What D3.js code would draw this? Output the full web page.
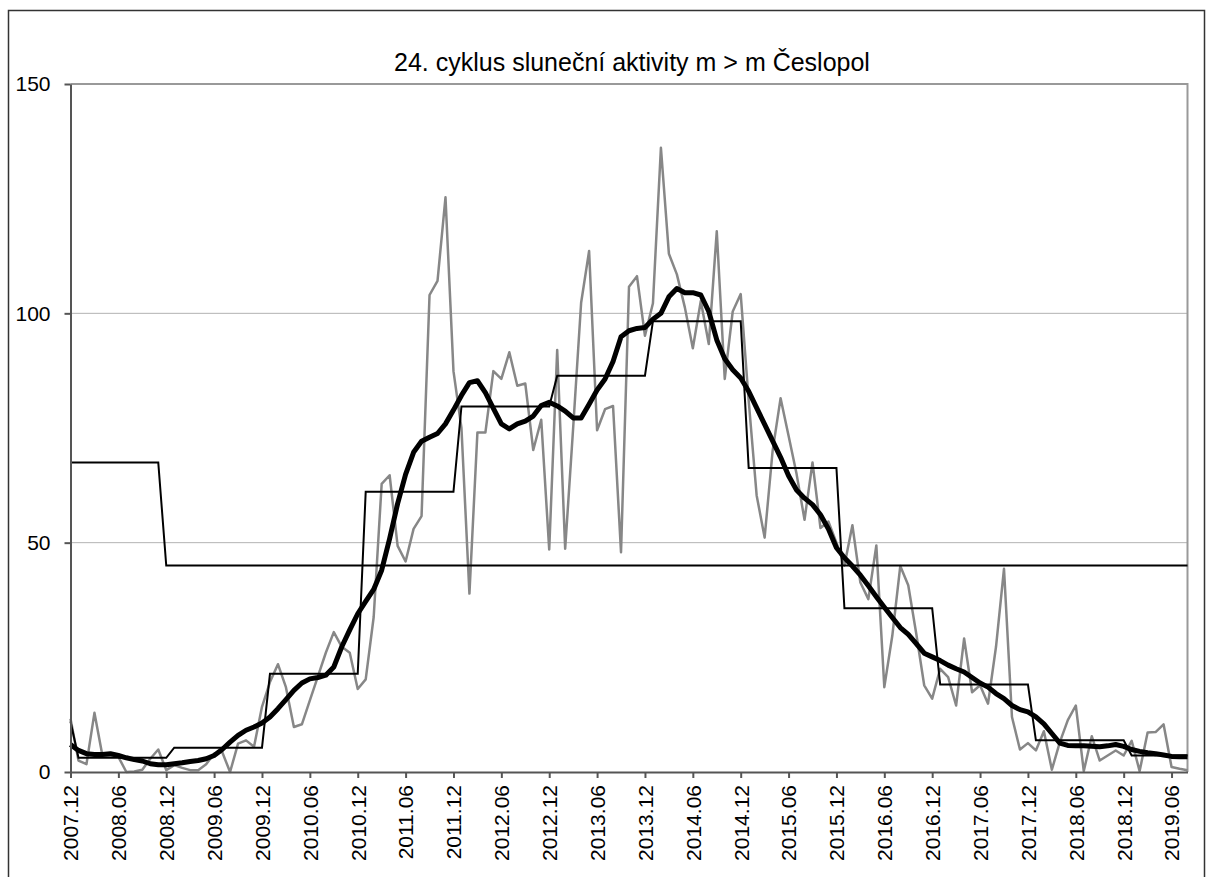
<!DOCTYPE html>
<meta charset="utf-8">
<style>
  body { margin: 0; background: #fff; }
  svg text { font-family: Arial, "Liberation Sans", sans-serif; fill: #000; }
</style>
<body></body>
<script src="https://cdn.jsdelivr.net/npm/d3@7/dist/d3.min.js"></script>
<script>
  const title = "24. cyklus sluneční aktivity m > m Česlopol"

  // first month on the axis and how many months follow
  const firstYear = 2007
  const firstMonth = 12
  const monthCount = 141

  // monthly relative numbers (grey line)
  const monthly = [
    11.6, 2.5, 1.7, 12.9, 3.6, 3.6, 3.3, 0, 0.1, 0.5, 2.9, 4.9,
    0.4, 1.5, 0.9, 0.4, 0.4, 1.7, 4, 4.4, 0, 6.2, 6.9, 5.5,
    14.2, 19.6, 23.5, 18.5, 9.8, 10.4, 15.6, 20.8, 26, 30.5, 27.3, 26,
    18.1, 20.2, 33.8, 62.8, 64.7, 49.3, 45.9, 53, 55.8, 104, 107.1, 125.3,
    87.4, 75, 38.9, 74, 74, 87.4, 85.7, 91.5, 84.2, 84.7, 70.2, 76.8,
    48.5, 92, 48.7, 75, 102.3, 113.6, 74.5, 79.1, 79.8, 47.9, 105.8, 108.1,
    95.1, 102.2, 136.1, 113, 108.5, 101.3, 92.4, 102.7, 93.3, 117.9, 85.7, 100.4,
    104.2, 81, 60.3, 51.1, 70, 81.5, 73.3, 65, 55, 67.5, 53.2, 54.6,
    50, 45, 53.8, 41.3, 37.7, 49.4, 18.5, 29.7, 44.9, 40.7, 30.2, 18.9,
    16, 22.5, 20.7, 14.5, 29.1, 17.4, 18.9, 14.9, 27.3, 44.3, 12, 4.9,
    6.3, 4.7, 8.9, 0.5, 6.5, 11.3, 14.5, 0.2, 7.8, 2.5, 3.6, 4.7,
    3.6, 6.8, 0.2, 8.6, 8.7, 10.4, 1.1, 0.7, 0.4
  ]

  // smoothed curve (thick black line)
  const smoothed = [
    6, 4.7, 4, 3.8, 3.8, 4, 3.6, 3.1, 2.7, 2.4, 1.8, 1.6,
    1.6, 1.8, 2, 2.3, 2.5, 2.9, 3.6, 4.9, 6.5, 8, 9.1, 9.8,
    10.7, 12, 13.8, 15.8, 17.8, 19.4, 20.3, 20.6, 21.1, 22.9, 27.3, 31,
    34.5, 37.2, 39.8, 44, 50.9, 58.5, 64.9, 69.7, 72.1, 73, 73.8, 75.9,
    78.9, 82.1, 84.9, 85.3, 82.7, 79.3, 75.9, 74.8, 75.9, 76.5, 77.6, 79.9,
    80.6, 79.8, 78.7, 77.2, 77.2, 80.2, 83.3, 85.7, 89.5, 94.9, 96.2, 96.7,
    96.9, 98.7, 100, 103.6, 105.4, 104.5, 104.5, 104, 100.4, 94.2, 90.1, 87.7,
    85.9, 83, 79.4, 75.8, 72.2, 68.6, 64.6, 61.5, 59.7, 58.3, 56.1, 53,
    48.9, 46.7, 44.9, 42.9, 40.6, 38.2, 35.9, 33.7, 31.5, 30, 28, 25.9,
    25.1, 24.3, 23.3, 22.5, 21.8, 20.6, 19.4, 18.5, 17.1, 16, 14.5, 13.6,
    13.1, 12, 10.5, 8.4, 6.3, 5.8, 5.7, 5.7, 5.6, 5.5, 5.7, 6,
    5.6, 4.9, 4.5, 4.2, 4, 3.7, 3.4, 3.3, 3.3
  ]

  // yearly means (thin black steps)
  const years = [2007, 2008, 2009, 2010, 2011, 2012, 2013, 2014, 2015, 2016, 2017, 2018, 2019]
  const yearMeans = [11, 3.1, 5.3, 21.4, 61.1, 79.7, 86.4, 98.3, 66.3, 35.7, 19.1, 6.9, 3.6]

  // long term level (thin black line), valid from the given month on
  const levelStarts = ["2007.12", "2008.12"]
  const levelValues = [67.5, 45]

  const yTicks = [0, 50, 100, 150]

  const margin = { top: 84, right: 18.5, bottom: 105, left: 70.5 }
  const W = 1206, H = 877
  const width = W - margin.left - margin.right
  const height = H - margin.top - margin.bottom

  const months = d3.range(monthCount).map(i => {
    const m = firstMonth - 1 + i
    const y = firstYear + Math.floor(m / 12)
    return `${y}.${String(m % 12 + 1).padStart(2, "0")}`
  })

  const yearly = months.map(m => yearMeans[years.indexOf(+m.slice(0, 4))])
  const level = months.map(m => {
    let v = levelValues[0]
    levelStarts.forEach((s, k) => { if (m >= s) v = levelValues[k] })
    return v
  })

  const x = d3.scalePoint().domain(months).range([0, width])
  const y = d3.scaleLinear().domain([0, 150]).range([height, 0])

  const svg = d3.select("body").append("svg")
    .attr("width", W)
    .attr("height", H)

  // outer frame
  svg.append("rect")
    .attr("x", 8.5).attr("y", 10.5)
    .attr("width", 1196).attr("height", 900)
    .attr("fill", "none")
    .attr("stroke", "#333")
    .attr("stroke-width", 1.5)

  svg.append("text")
    .attr("x", 632)
    .attr("y", 71)
    .attr("text-anchor", "middle")
    .style("font-size", "25px")
    .text(title)

  const g = svg.append("g")
    .attr("transform", `translate(${margin.left}, ${margin.top})`)

  // grid
  g.append("g")
    .selectAll("line")
    .data(yTicks.filter(d => d > 0 && d < 150))
    .enter()
    .append("line")
    .attr("x1", 0).attr("x2", width)
    .attr("y1", d => y(d)).attr("y2", d => y(d))
    .attr("stroke", "#b3b3b3")
    .attr("stroke-width", 1)

  // top and right border of the plot
  g.append("path")
    .attr("d", `M0,${y(150)}H${width}V${height}`)
    .attr("fill", "none")
    .attr("stroke", "#999")
    .attr("stroke-width", 2)

  const line = data => d3.line()
    .x((d, i) => x(months[i]))
    .y(d => y(d))(data)

  g.append("path")
    .attr("d", line(monthly))
    .attr("fill", "none")
    .attr("stroke", "#878787")
    .attr("stroke-width", 2.5)
    .attr("stroke-linejoin", "round")

  g.append("path")
    .attr("d", line(level))
    .attr("fill", "none")
    .attr("stroke", "#000")
    .attr("stroke-width", 2)

  g.append("path")
    .attr("d", line(yearly))
    .attr("fill", "none")
    .attr("stroke", "#000")
    .attr("stroke-width", 2)

  g.append("path")
    .attr("d", line(smoothed))
    .attr("fill", "none")
    .attr("stroke", "#000")
    .attr("stroke-width", 5)
    .attr("stroke-linejoin", "round")

  const yAxis = d3.axisLeft(y)
    .tickValues(yTicks)
    .tickSize(6)
    .tickSizeOuter(0)
    .tickPadding(14)

  const xAxis = d3.axisBottom(x)
    .tickValues(months.filter((d, i) => i % 6 === 0))
    .tickSize(6)
    .tickSizeOuter(0)

  g.append("g")
    .attr("class", "axis axis--y")
    .call(yAxis)
    .call(a => a.selectAll("text").style("font-size", "21px"))

  g.append("g")
    .attr("class", "axis axis--x")
    .attr("transform", `translate(0, ${height})`)
    .call(xAxis)
    .call(a => a.selectAll("text")
      .style("font-size", "21px")
      .style("text-anchor", "end")
      .attr("x", -13)
      .attr("y", 0)
      .attr("dy", "0.35em")
      .attr("transform", "rotate(-90)"))

  svg.selectAll(".axis path.domain, .axis line")
    .attr("stroke", "#555")
    .attr("stroke-width", 2)
</script>
